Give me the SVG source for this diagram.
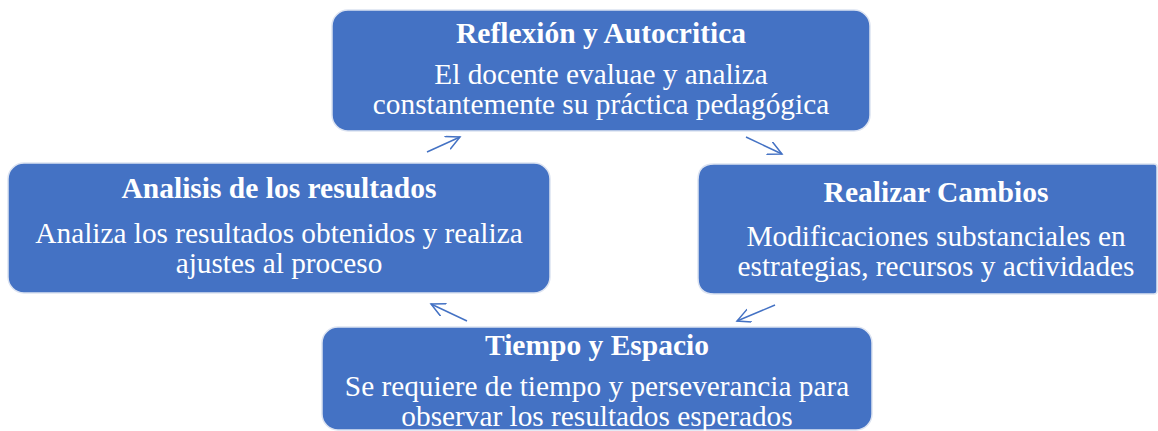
<svg xmlns="http://www.w3.org/2000/svg" width="1158" height="431" viewBox="0 0 1158 431">
<style>
.box{fill:#4472C4;stroke:#DCE3F1;stroke-width:1.5}
.t{font-family:"Liberation Serif",serif;fill:#fff;text-anchor:middle}
.h{font-weight:bold;font-size:29.5px}
.b{font-size:29.3px}
.c{fill:none;stroke:#4472C4;stroke-width:1.5}
</style>
<defs>
<marker id="ah" markerWidth="20" markerHeight="20" refX="14" refY="7" orient="auto" markerUnits="userSpaceOnUse">
<polyline points="0,0 14,7 0,14" fill="none" stroke="#4472C4" stroke-width="1.5"/>
</marker>
</defs>
<rect width="1158" height="431" fill="#fff"/>
<g id="n1">
<rect class="box" x="332" y="10" width="538" height="121" rx="16"/>
<text class="t h" x="601" y="43">Reflexión y Autocritica</text>
<text class="t b" x="601" y="84">El docente evaluae y analiza</text>
<text class="t b" x="601" y="114">constantemente su práctica pedagógica</text>
</g>
<g id="n2">
<path class="box" d="M714,164 H1154 Q1157,164 1157,167 V291 Q1157,294 1154,294 H714 Q698,294 698,278 V180 Q698,164 714,164 Z"/>
<text class="t h" x="936" y="202">Realizar Cambios</text>
<text class="t b" x="936" y="246">Modificaciones substanciales en</text>
<text class="t b" x="936" y="276">estrategias, recursos y actividades</text>
</g>
<g id="n3">
<rect class="box" x="322" y="327" width="550" height="103" rx="16"/>
<text class="t h" x="597" y="355">Tiempo y Espacio</text>
<text class="t b" x="597" y="396">Se requiere de tiempo y perseverancia para</text>
<text class="t b" x="597" y="426">observar los resultados esperados</text>
</g>
<g id="n4">
<rect class="box" x="8" y="163" width="542" height="130" rx="16"/>
<text class="t h" x="279" y="198">Analisis de los resultados</text>
<text class="t b" x="279" y="243">Analiza los resultados obtenidos y realiza</text>
<text class="t b" x="279" y="273">ajustes al proceso</text>
</g>
<g id="connectors">
<line class="c" x1="427" y1="152" x2="460" y2="137" marker-end="url(#ah)"/>
<line class="c" x1="746" y1="137" x2="782" y2="154" marker-end="url(#ah)"/>
<line class="c" x1="775" y1="305" x2="737" y2="321" marker-end="url(#ah)"/>
<line class="c" x1="467" y1="321" x2="431" y2="304" marker-end="url(#ah)"/>
</g>
</svg>
